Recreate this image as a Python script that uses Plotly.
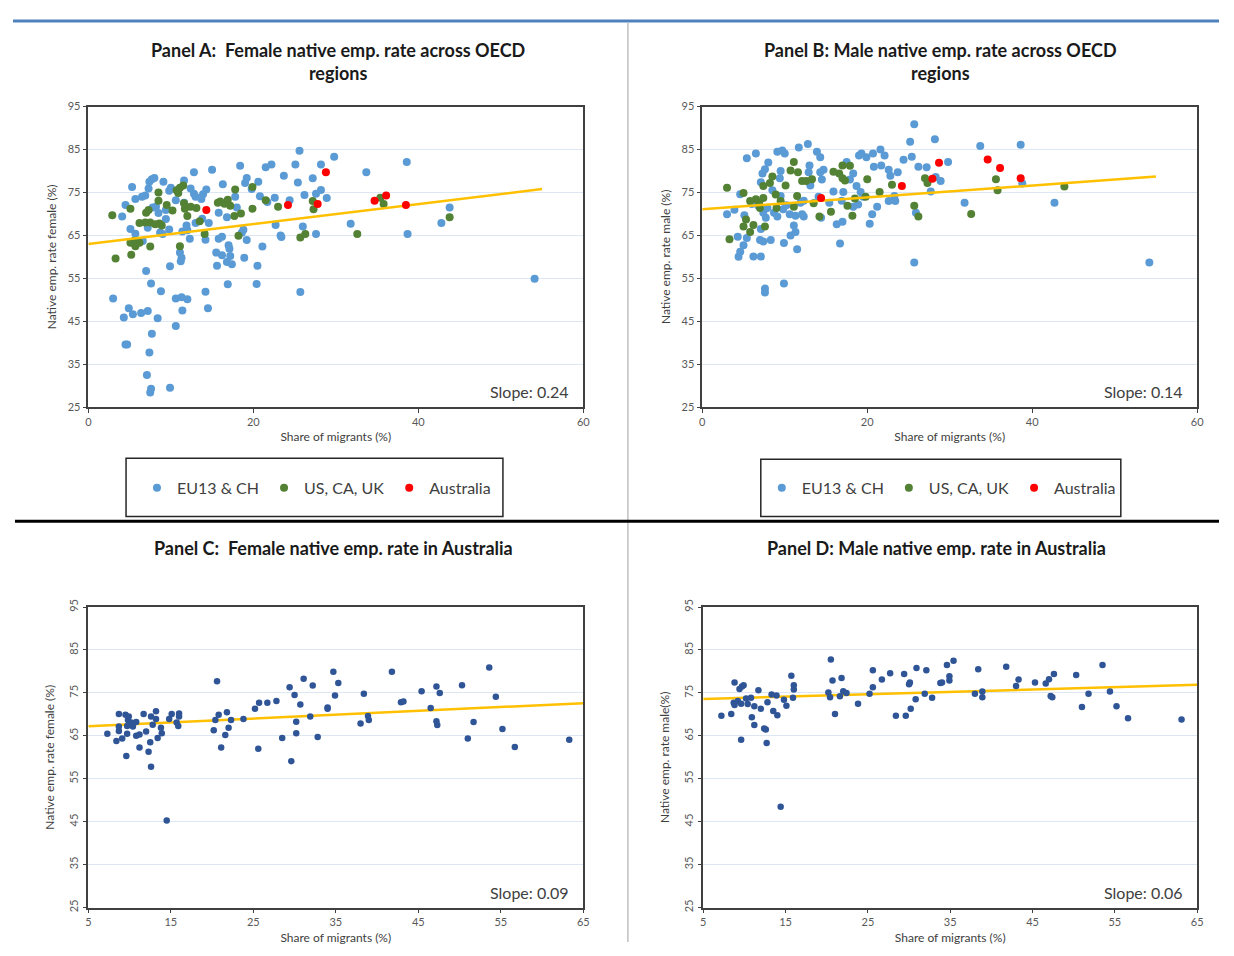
import plotly.graph_objects as go

# ---------------- DATA ----------------
# Panel A: female native employment rate vs share of migrants, OECD regions
a_eu_x = [25.6, 29.8, 15.0, 12.8, 18.4, 21.5, 22.2, 25.1, 28.2, 23.7, 27.2, 25.4, 19.2, 19.0, 20.6, 19.8, 16.3,
          28.2, 27.6, 26.2, 28.9, 20.8, 22.6, 21.7, 24.4, 17.8, 18.0, 15.8, 16.8, 14.3, 13.9, 13.7, 11.6, 12.4,
          12.8, 13.0, 5.3, 7.7, 8.0, 7.4, 7.3, 9.1, 10.0, 9.8, 5.7, 6.5, 6.9, 4.5, 4.1, 5.1, 5.7, 8.2, 8.5,
          10.6, 11.6, 9.4, 8.7, 9.0, 9.8, 7.2, 11.9, 12.0, 11.4, 12.3, 13.0, 14.2, 14.6, 15.8, 16.2, 17.0,
          17.1, 15.5, 16.2, 17.2, 16.8, 17.4, 15.6, 11.1, 11.3, 11.2, 9.9, 18.8, 18.6, 19.2, 18.9, 21.1, 20.5,
          20.4, 22.7, 23.3, 23.4, 26.0, 27.6, 25.7, 16.9, 14.2, 14.5, 7.0, 7.6, 8.8, 3.0, 4.9, 5.4, 4.3, 6.4,
          7.2, 8.4, 10.6, 11.3, 12.0, 11.4, 10.6, 7.7, 4.5, 4.7, 7.4, 7.1, 7.6, 7.5, 9.9, 6.6, 7.8, 9.4, 13.8,
          38.6, 33.7, 31.8, 38.7, 43.8, 42.8, 54.1]
a_eu_y = [84.7, 83.3, 80.3, 79.7, 81.2, 80.9, 81.5, 81.5, 81.5, 78.9, 78.3, 77.3, 78.4, 77.2, 77.5, 75.8, 76.9,
          75.6, 74.7, 74.4, 73.7, 74.1, 73.8, 72.8, 73.2, 74.0, 71.5, 70.3, 69.2, 75.7, 74.6, 73.5, 77.8, 75.9,
          74.7, 74.0, 76.3, 78.1, 78.4, 77.5, 75.9, 77.5, 76.1, 75.4, 73.5, 74.0, 74.3, 72.1, 69.4, 66.5, 65.4,
          71.7, 70.2, 73.2, 72.6, 68.8, 65.7, 65.3, 66.4, 66.8, 67.3, 66.2, 65.9, 64.2, 67.9, 64.0, 67.9, 64.2,
          64.7, 62.7, 61.9, 61.0, 60.4, 60.2, 58.8, 58.3, 57.9, 61.0, 59.8, 59.0, 57.8, 66.3, 65.6, 63.9, 59.8,
          62.4, 57.9, 53.7, 67.4, 65.0, 64.6, 67.1, 65.3, 51.8, 53.6, 51.9, 48.0, 56.7, 53.8, 52.0, 50.3, 48.0,
          46.6, 45.9, 46.9, 47.4, 45.7, 50.3, 50.6, 50.1, 47.5, 43.9, 42.1, 39.6, 39.6, 37.7, 32.5, 29.3, 28.4,
          29.5, 63.7, 71.5, 70.9, 68.9, 82.1, 79.7, 67.7, 65.3, 71.5, 67.9, 54.9]
a_us_x = [2.9, 3.3, 5.1, 5.2, 5.1, 5.7, 6.2, 5.5, 6.2, 6.9, 7.5, 8.1, 8.9, 8.6, 7.0, 7.3, 8.5, 8.5, 7.5, 9.5,
          10.2, 10.7, 11.1, 11.5, 10.9, 11.6, 11.7, 12.4, 13.1, 12.0, 13.5, 11.1, 14.1, 15.7, 16.0, 16.5, 16.9,
          17.2, 17.8, 17.7, 18.5, 18.2, 19.9, 19.9, 21.5, 23.0, 27.2, 27.3, 25.7, 26.3, 32.6, 35.4, 35.8, 43.8]
a_us_y = [69.7, 59.6, 71.2, 60.5, 63.3, 62.5, 63.3, 63.7, 67.9, 68.0, 68.0, 67.6, 67.3, 67.8, 70.3, 70.9, 75.0,
          73.1, 62.4, 72.1, 70.8, 75.5, 76.1, 76.6, 74.9, 72.5, 71.2, 71.7, 71.4, 69.5, 68.3, 62.5, 65.3, 72.6,
          72.9, 72.4, 73.3, 71.9, 75.7, 69.5, 70.1, 64.9, 76.3, 71.2, 73.2, 71.7, 73.0, 71.1, 64.5, 65.3, 65.3,
          73.8, 72.3, 69.2]
a_au_x = [14.3, 24.2, 27.8, 28.8, 34.7, 36.1, 38.5]
a_au_y = [70.9, 72.1, 72.3, 79.7, 73.1, 74.3, 72.1]
a_trend_x = [0, 55]
a_trend_y = [63.0, 75.8]

# Panel B: male native employment rate vs share of migrants, OECD regions
b_eu_x = [25.7, 25.2, 28.2, 5.4, 6.5, 9.1, 9.7, 10.0, 11.7, 12.8, 13.9, 14.3, 8.0, 7.6, 7.3, 7.1, 9.5, 9.4,
          13.0, 12.9, 14.3, 14.5, 14.7, 17.5, 18.3, 17.9, 19.0, 19.3, 19.9, 20.7, 21.6, 22.1, 20.8, 21.7, 22.6,
          22.8, 23.7, 24.4, 25.4, 26.2, 27.2, 28.3, 28.9, 27.7, 18.7, 19.2, 19.5, 18.9, 15.9, 17.1, 16.9, 15.4,
          16.3, 17.0, 16.7, 20.3, 20.6, 21.2, 22.6, 23.4, 23.3, 25.7, 25.9, 3.0, 3.9, 4.6, 4.3, 4.4, 4.6, 5.0,
          5.1, 5.4, 6.0, 6.2, 7.1, 7.0, 7.4, 8.3, 7.1, 7.7, 7.4, 7.9, 7.6, 7.6, 9.9, 9.9, 9.1, 8.7, 10.6, 11.3,
          12.1, 12.3, 11.1, 11.3, 10.7, 11.5, 9.8, 10.2, 11.9, 12.3, 13.1, 8.5, 9.5, 6.8, 14.4, 14.1, 18.3,
          33.7, 38.6, 29.8, 31.8, 38.8, 42.7, 54.2]
b_eu_y = [90.9, 86.8, 87.4, 83.0, 84.1, 84.5, 84.8, 84.1, 85.5, 86.3, 84.5, 83.2, 82.0, 80.4, 79.4, 77.4, 80.0,
          78.3, 81.3, 79.7, 79.7, 78.0, 80.3, 82.1, 79.4, 78.0, 83.6, 84.1, 83.2, 84.1, 85.0, 83.6, 81.0, 81.3,
          80.3, 78.9, 79.7, 82.6, 83.3, 81.0, 80.9, 78.6, 77.7, 75.2, 76.5, 75.1, 74.0, 72.2, 75.2, 75.1, 73.1,
          72.6, 67.6, 68.2, 63.1, 67.7, 69.9, 71.7, 73.0, 73.0, 74.2, 58.7, 70.3, 69.9, 71.0, 74.6, 64.7, 60.0,
          61.2, 62.7, 69.7, 64.4, 72.3, 60.1, 60.1, 63.9, 63.6, 63.9, 66.5, 69.1, 70.3, 71.4, 52.6, 51.7, 53.8,
          63.2, 69.4, 70.3, 69.9, 69.6, 69.9, 69.4, 67.3, 65.8, 65.0, 61.8, 71.1, 72.0, 72.6, 73.1, 76.6, 75.5,
          74.2, 71.9, 69.1, 74.0, 71.7, 85.8, 86.1, 82.1, 72.6, 77.1, 72.6, 58.7]
b_us_x = [3.0, 3.3, 5.0, 5.3, 5.0, 5.8, 6.2, 5.8, 6.5, 6.9, 7.4, 7.0, 7.4, 8.2, 8.5, 8.9, 9.0, 7.6, 9.5, 10.1,
          10.7, 11.1, 11.6, 12.1, 12.6, 13.3, 11.5, 11.1, 13.5, 14.2, 15.6, 15.9, 16.6, 17.0, 17.3, 17.0, 17.9,
          17.6, 18.2, 18.5, 19.8, 20.0, 21.5, 23.0, 25.7, 26.2, 27.0, 27.3, 35.6, 35.8, 32.6, 43.9]
b_us_y = [76.1, 64.1, 74.9, 68.7, 67.1, 65.8, 67.4, 73.0, 73.4, 72.6, 73.7, 71.4, 76.5, 77.2, 78.7, 74.5, 71.4,
          67.1, 73.0, 76.6, 80.1, 82.1, 79.7, 77.7, 77.7, 78.1, 74.2, 71.7, 72.5, 69.4, 70.5, 79.8, 79.4, 78.3,
          77.8, 81.3, 81.2, 71.9, 69.6, 73.6, 74.0, 78.1, 75.1, 76.8, 71.9, 69.4, 78.3, 77.2, 78.1, 75.5, 70.0,
          76.4]
b_au_x = [14.4, 24.2, 27.9, 28.7, 34.6, 36.1, 38.6]
b_au_y = [73.7, 76.5, 78.2, 81.9, 82.7, 80.7, 78.3]
b_trend_x = [0, 55]
b_trend_y = [71.1, 78.7]

# Panel C: female native employment rate, Australian regions
c_x = [7.3, 8.7, 9.5, 9.9, 9.8, 8.7, 8.7, 8.4, 9.1, 9.7, 10.2, 10.4, 10.8, 9.7, 9.6, 10.8, 11.2, 11.2, 11.7,
       12.0, 12.3, 12.6, 13.2, 13.2, 12.8, 12.5, 12.6, 13.4, 13.8, 13.9, 14.5, 14.8, 15.1, 15.7, 15.9, 16.0,
       16.0, 20.6, 20.8, 20.4, 20.2, 21.8, 22.3, 22.0, 21.6, 21.1, 23.8, 25.2, 25.7, 26.7, 27.8, 25.6, 28.5,
       29.4, 30.0, 31.1, 32.2, 30.7, 30.2, 30.2, 29.6, 31.9, 32.8, 34.0, 34.0, 34.7, 34.9, 35.3, 38.0, 38.9,
       39.0, 38.4, 41.8, 42.9, 43.2, 45.4, 46.5, 47.2, 47.6, 47.2, 47.3, 50.3, 51.0, 51.7, 53.6, 54.4, 55.2,
       56.7, 63.3]
c_y = [65.5, 70.1, 69.9, 69.5, 68.7, 67.2, 66.1, 63.8, 64.4, 67.3, 68.1, 67.2, 68.2, 65.5, 60.3, 65.0, 65.3,
       62.3, 70.1, 66.0, 61.3, 69.5, 70.7, 68.9, 67.6, 63.5, 57.8, 64.5, 66.9, 65.6, 45.3, 68.9, 70.1, 68.1,
       67.3, 69.5, 70.2, 77.7, 69.9, 68.7, 66.3, 70.5, 68.7, 66.9, 65.2, 62.3, 68.9, 71.3, 72.7, 72.7, 73.1,
       62.0, 64.5, 76.3, 74.5, 78.3, 76.7, 72.3, 68.3, 65.6, 59.1, 69.5, 64.7, 71.6, 71.3, 79.9, 74.4, 77.3,
       67.9, 69.6, 68.7, 74.8, 79.9, 72.8, 73.0, 75.4, 71.5, 76.5, 75.0, 68.4, 67.5, 76.8, 64.4, 68.2, 80.9,
       74.1, 66.6, 62.4, 64.1]
c_trend_x = [5, 65]
c_trend_y = [67.25, 72.6]

# Panel D: male native employment rate, Australian regions
d_x = [7.2, 8.4, 8.8, 9.4, 9.7, 9.9, 8.7, 8.8, 9.2, 9.6, 10.2, 10.8, 10.4, 11.2, 9.6, 10.9, 11.2, 11.7, 12.0,
       12.4, 12.6, 12.7, 12.8, 13.3, 13.9, 13.5, 14.0, 14.4, 14.8, 15.1, 15.7, 16.0, 16.0, 15.9, 20.5, 20.2,
       20.4, 20.7, 21.8, 22.0, 22.4, 21.6, 21.0, 23.8, 25.2, 25.6, 25.6, 26.7, 27.7, 28.4, 29.6, 29.4, 30.0,
       30.1, 30.2, 30.8, 30.9, 31.9, 32.1, 32.8, 33.8, 34.0, 34.6, 34.9, 34.9, 35.4, 38.0, 38.9, 38.9, 38.4,
       41.8, 43.0, 43.3, 45.3, 46.6, 47.0, 47.6, 47.2, 47.4, 50.3, 51.0, 51.8, 53.5, 54.4, 55.2, 56.6, 63.1]
d_y = [69.7, 70.1, 77.4, 75.9, 76.5, 76.8, 72.7, 72.2, 73.1, 72.5, 73.7, 73.9, 72.4, 71.9, 64.1, 69.3, 67.5,
       75.6, 71.3, 66.7, 66.5, 63.3, 72.8, 74.6, 74.4, 70.8, 69.8, 48.5, 73.4, 72.0, 79.0, 76.8, 75.8, 73.9,
       82.8, 75.1, 74.0, 77.9, 78.5, 75.4, 75.0, 74.2, 70.1, 72.5, 74.8, 76.3, 80.3, 78.1, 79.6, 69.7, 69.7,
       79.4, 77.0, 77.4, 71.3, 73.5, 80.8, 74.8, 80.3, 73.9, 77.3, 77.4, 81.5, 78.9, 77.9, 82.5, 74.8, 75.3,
       74.0, 80.5, 81.1, 76.6, 78.1, 77.4, 77.2, 78.2, 79.4, 74.3, 74.0, 79.2, 71.7, 74.8, 81.5, 75.3, 71.9,
       69.1, 68.8]
d_trend_x = [5, 65]
d_trend_y = [73.6, 76.9]

legend_names = ["EU13 & CH", "US, CA, UK", "Australia"]
slopes = ["Slope: 0.24", "Slope: 0.14", "Slope: 0.09", "Slope: 0.06"]
titles = ["Panel A:&nbsp; Female native emp. rate across OECD<br>regions",
          "Panel B: Male native emp. rate across OECD<br>regions",
          "Panel C:&nbsp; Female native emp. rate in Australia",
          "Panel D: Male native emp. rate in Australia"]
y_titles = ["Native emp. rate female (%)", "Native emp. rate male (%)",
            "Native emp. rate female (%)", "Native emp. rate male(%)"]
x_title = "Share of migrants (%)"

# ---------------- STYLE ----------------
# The page body keeps its default 8px margin, so the figure is 16px smaller
# than the window and every reference pixel position is shifted by OFF.
OFF = 8
W, H = 1234 - 2 * OFF, 956 - 2 * OFF
FONT = "Lato, 'Open Sans', sans-serif"
C_EU, C_US, C_AU, C_AUS = "#5b9bd5", "#548235", "#ff0000", "#2f5597"
C_TREND = "#ffc000"


def px(x):
    return (x - OFF) / W


def py(y):
    return 1 - (y - OFF) / H


# plot-area rectangles (left, top, right, bottom) in page pixels
boxes = [(86, 100, 585, 405), (705, 100, 1204, 405), (86, 608, 585, 913), (706, 608, 1204, 913)]

fig = go.Figure()


def add_scatter(x, y, color, size, ax, name=None, legend=None):
    fig.add_trace(go.Scatter(
        x=x, y=y, mode="markers", name=name,
        marker=dict(color=color, size=size, line=dict(width=0)),
        xaxis="x" + ax, yaxis="y" + ax,
        showlegend=name is not None, legend=legend))


def add_trend(x, y, ax):
    fig.add_trace(go.Scatter(x=x, y=y, mode="lines", line=dict(color=C_TREND, width=2.5),
                             xaxis="x" + ax, yaxis="y" + ax, showlegend=False, hoverinfo="skip"))


add_scatter(a_eu_x, a_eu_y, C_EU, 8, "", legend_names[0], "legend")
add_scatter(a_us_x, a_us_y, C_US, 8, "", legend_names[1], "legend")
add_trend(a_trend_x, a_trend_y, "")
add_scatter(a_au_x, a_au_y, C_AU, 8, "", legend_names[2], "legend")

add_scatter(b_eu_x, b_eu_y, C_EU, 8, "2", legend_names[0], "legend2")
add_scatter(b_us_x, b_us_y, C_US, 8, "2", legend_names[1], "legend2")
add_trend(b_trend_x, b_trend_y, "2")
add_scatter(b_au_x, b_au_y, C_AU, 8, "2", legend_names[2], "legend2")

add_trend(c_trend_x, c_trend_y, "3")
add_scatter(c_x, c_y, C_AUS, 6.5, "3")
add_trend(d_trend_x, d_trend_y, "4")
add_scatter(d_x, d_y, C_AUS, 6.5, "4")

layout = dict(
    width=W, height=H, margin=dict(l=0, r=0, t=0, b=0),
    paper_bgcolor="white", plot_bgcolor="white",
    font=dict(family=FONT, color="#404040"),
)

x_ranges = [[0, 60], [0, 60], [5, 65], [5, 65]]
x_ticks = [[0, 20, 40, 60], [0, 20, 40, 60], [5, 15, 25, 35, 45, 55, 65], [5, 15, 25, 35, 45, 55, 65]]
suffix = ["", "2", "3", "4"]
annotations = []
shapes = []
for i, (l, t, r, b) in enumerate(boxes):
    s = suffix[i]
    layout["xaxis" + s] = dict(
        domain=[px(l), px(r)], anchor="y" + s, range=x_ranges[i], tickvals=x_ticks[i],
        showgrid=False, zeroline=False, showline=True, mirror=True, linecolor="#404040", linewidth=1.5,
        ticks="outside", ticklen=4, tickcolor="#404040",
        tickfont=dict(size=11, color="#595959", family=FONT),
        title=dict(text=x_title, font=dict(size=12, color="#404040", family=FONT), standoff=6))
    layout["yaxis" + s] = dict(
        domain=[py(b), py(t)], anchor="x" + s, range=[25, 95], dtick=10, tick0=25,
        showgrid=True, gridcolor="#dde6f3", gridwidth=1, zeroline=False,
        showline=True, mirror=True, linecolor="#404040", linewidth=1.5,
        ticks="outside", ticklen=4, tickcolor="#404040",
        tickangle=(0 if i < 2 else -90),
        tickfont=dict(size=11, color="#595959", family=FONT),
        title=dict(text=y_titles[i], font=dict(size=12, color="#404040", family=FONT),
                   standoff=(8 if i < 2 else 10)))
    annotations.append(dict(
        text=slopes[i], xref="paper", yref="paper", x=px(r - 12), y=py(b - 4),
        xanchor="right", yanchor="bottom", showarrow=False,
        font=dict(size=16, color="#404040", family=FONT)))

title_pos = [(338, 54), (945, 54), (333, 548), (941, 548)]
for i, (cx, cy) in enumerate(title_pos):
    annotations.append(dict(
        text="<b>" + titles[i] + "</b>", xref="paper", yref="paper", x=px(cx), y=py(cy),
        xanchor="center", yanchor="middle", showarrow=False, align="center",
        font=dict(size=18, color="#1a1a1a", family=FONT)))

# legend boxes
legend_boxes = [(124, 457, 504, 516), (764, 458, 1127, 516)]
for (l, t, r, b) in legend_boxes:
    shapes.append(dict(type="rect", xref="paper", yref="paper", x0=px(l), x1=px(r), y0=py(b), y1=py(t),
                       line=dict(color="#262626", width=1.5), fillcolor="rgba(0,0,0,0)"))

# page decorations: top blue rule, vertical divider, black separator
shapes.append(dict(type="line", xref="paper", yref="paper", x0=px(10), x1=1, y0=py(13), y1=py(13),
                   line=dict(color="#4f81bd", width=3)))
shapes.append(dict(type="line", xref="paper", yref="paper", x0=px(630), x1=px(630), y0=0, y1=py(15),
                   line=dict(color="#c0c0c0", width=1.5)))
shapes.append(dict(type="line", xref="paper", yref="paper", x0=px(12), x1=1, y0=py(521), y1=py(521),
                   line=dict(color="#000000", width=3)))

leg_common = dict(orientation="h", xanchor="center", yanchor="middle", bgcolor="rgba(0,0,0,0)",
                  font=dict(size=16, color="#404040", family=FONT), tracegroupgap=0)
layout["legend"] = dict(x=px(316), y=py(487), **leg_common)
layout["legend2"] = dict(x=px(946), y=py(487), **leg_common)
layout["annotations"] = annotations
layout["shapes"] = shapes
fig.update_layout(**layout)

fig.write_html("out.html", config={"displayModeBar": False})
